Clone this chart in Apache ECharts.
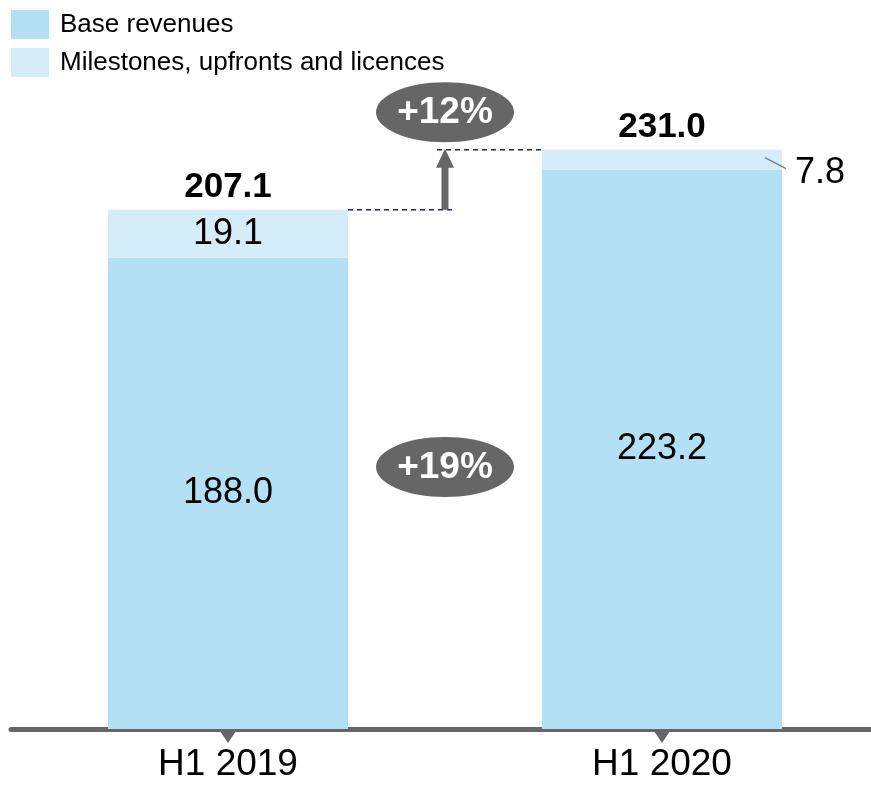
<!DOCTYPE html>
<html>
<head>
<meta charset="utf-8">
<script src="https://cdn.jsdelivr.net/npm/echarts@6/dist/echarts.min.js"></script>
<style>
  html, body { margin: 0; padding: 0; background: #fff; overflow: hidden; }
  #chart { width: 879px; height: 785px; }
</style>
</head>
<body>
<div id="chart"></div>
<script>
// data
const categories = ['H1 2019', 'H1 2020'];
const baseRevenues = [188.0, 223.2];
const milestones = [19.1, 7.8];
const growthBase = '+19%';
const growthTotal = '+12%';

const totals = baseRevenues.map((v, i) => +(v + milestones[i]).toFixed(1));

const FONT = 'Liberation Sans';
const myChart = echarts.init(document.getElementById('chart'));

myChart.setOption({
  animation: false,
  textStyle: { fontFamily: FONT },
  legend: {
    data: ['Base revenues', 'Milestones, upfronts and licences'],
    orient: 'vertical',
    left: 6, top: 5,
    itemWidth: 38, itemHeight: 29, itemGap: 9,
    icon: 'rect',
    textStyle: { fontSize: 26, color: '#000', fontFamily: FONT, padding: [0, 0, 0, 6] }
  },
  grid: { left: 11, right: 0, top: 27, bottom: 56 },
  xAxis: {
    type: 'category',
    data: categories,
    axisLine: { lineStyle: { color: '#666', width: 5 } },
    axisTick: { show: false },
    axisLabel: { fontSize: 37, color: '#000', margin: 17, fontFamily: FONT }
  },
  yAxis: { type: 'value', min: 0, max: 280, show: false, splitLine: { show: false } },
  series: [
    {
      name: 'Base revenues', type: 'bar', stack: 'a', barWidth: 240,
      itemStyle: { color: '#b3e0f5' },
      label: { show: true, position: 'inside', fontSize: 36, color: '#000',
               formatter: p => p.value.toFixed(1) },
      data: baseRevenues
    },
    {
      name: 'Milestones, upfronts and licences', type: 'bar', stack: 'a', barWidth: 240,
      itemStyle: { color: '#d5edf9' },
      label: { show: true, position: 'inside', fontSize: 36, color: '#000',
               formatter: p => p.value.toFixed(1) },
      data: milestones.map((v, i) => i === 1
        ? { value: v, label: { position: 'right', distance: 13, offset: [0, 13] } }
        : v)
    },
    {
      name: 'total', type: 'bar', stack: 'a', barWidth: 240,
      itemStyle: { color: 'transparent' },
      label: { show: true, position: 'top', distance: 5, fontSize: 35, fontWeight: 'bold', color: '#000',
               formatter: p => totals[p.dataIndex].toFixed(1) },
      data: totals.map(() => 0)
    }
  ]
});

// annotations placed through the chart's own scales
const px = (c, v) => myChart.convertToPixel({ gridIndex: 0 }, [c, v]);
const p0 = px(categories[0], 0), p1 = px(categories[1], 0);
const top0 = px(categories[0], totals[0]), top1 = px(categories[1], totals[1]);
const split1 = px(categories[1], baseRevenues[1]);
const midX = (p0[0] + p1[0]) / 2;
const half = 120;
const axisY = p0[1];
const g = [];

// triangle ticks under axis
[p0, p1].forEach(p => g.push({
  type: 'polygon', z: 100, shape: { points: [[p[0] - 8, axisY + 2], [p[0] + 8, axisY + 2], [p[0], axisY + 14]] },
  style: { fill: '#666' }
}));

// dashed guide lines
g.push({ type: 'line', z: 100, shape: { x1: p0[0] + half, y1: top0[1], x2: midX + 10, y2: top0[1] },
  style: { stroke: '#22225e', lineWidth: 1.5, lineDash: [5, 4] } });
g.push({ type: 'line', z: 100, shape: { x1: midX - 8, y1: top1[1], x2: p1[0] - half, y2: top1[1] },
  style: { stroke: '#22225e', lineWidth: 1.5, lineDash: [5, 4] } });

// arrow
g.push({ type: 'line', z: 100, shape: { x1: midX, y1: top0[1], x2: midX, y2: top1[1] + 16 },
  style: { stroke: '#666', lineWidth: 7 } });
g.push({ type: 'polygon', z: 100, shape: { points: [[midX - 9, top1[1] + 18], [midX + 9, top1[1] + 18], [midX, top1[1] - 1]] },
  style: { fill: '#666' } });

// leader for 7.8
const segMid = (top1[1] + split1[1]) / 2;
g.push({ type: 'line', z: 100, shape: { x1: p1[0] + half - 17, y1: segMid - 2, x2: p1[0] + half + 4, y2: segMid + 9 },
  style: { stroke: '#6f7f8f', lineWidth: 1.2 } });

// growth bubbles
function bubble(cy, text) {
  g.push({ type: 'ellipse', z: 100, shape: { cx: midX, cy: cy, rx: 69, ry: 30 }, style: { fill: '#666' } });
  g.push({ type: 'text', z: 101, style: { text: text, x: midX, y: cy + 1, fill: '#fff', align: 'center', verticalAlign: 'middle',
    font: 'bold 37px "' + FONT + '"' } });
}
bubble(px(categories[0], 246)[1], growthTotal);
bubble(px(categories[0], 104.5)[1], growthBase);

myChart.setOption({ graphic: g });
</script>
</body>
</html>
